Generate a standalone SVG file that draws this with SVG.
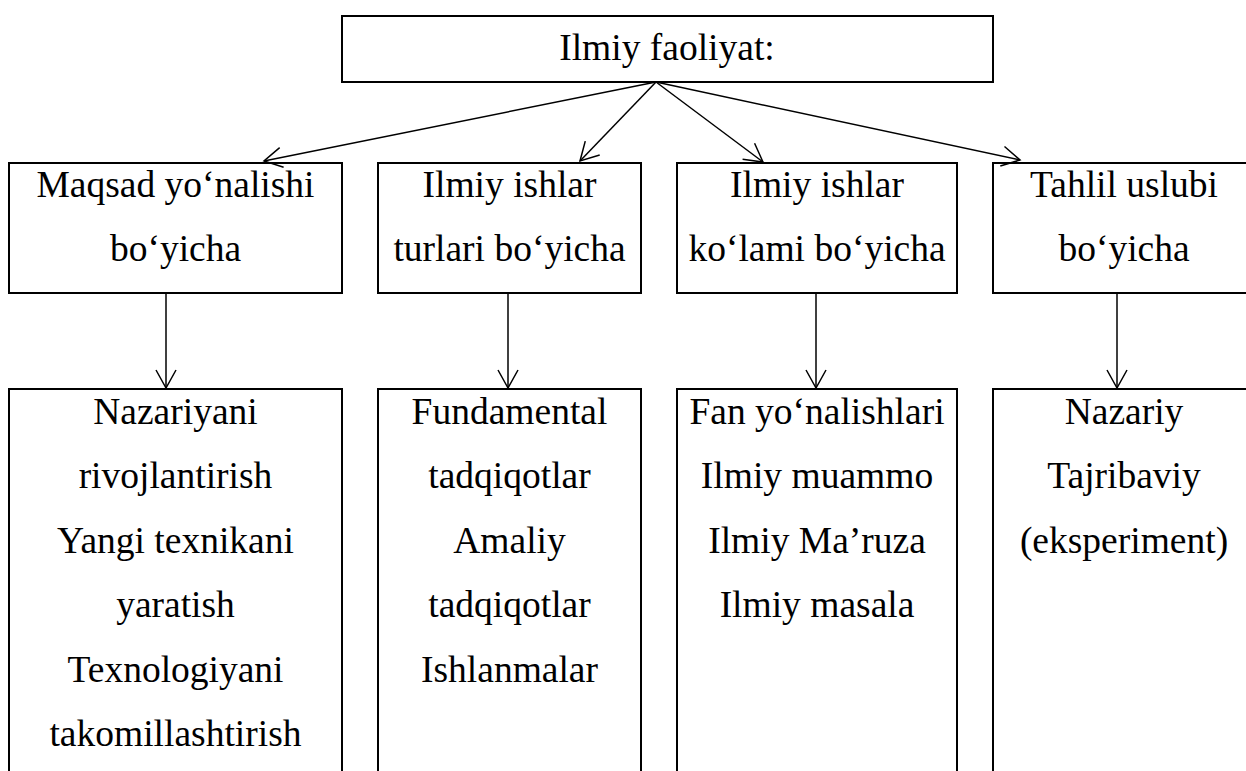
<svg xmlns="http://www.w3.org/2000/svg" width="1246" height="771" viewBox="0 0 1246 771" font-family="Liberation Serif">
  <defs>
    <marker id="arrow" markerUnits="userSpaceOnUse" viewBox="-20 -12 22 24" refX="0" refY="0" markerWidth="22" markerHeight="24" orient="auto">
      <path d="M-18,-10 L0,0 L-18,10" fill="none" stroke="#000000" stroke-width="1.5"/>
    </marker>
  </defs>
  <rect width="1246" height="771" fill="#ffffff"/>

  <!-- root -->
  <g id="root" font-size="37.5" fill="#000000">
    <rect x="342" y="16" width="651" height="66" fill="#ffffff" stroke="#000000" stroke-width="2"/>
    <text font-family="Liberation Serif" text-anchor="middle" x="667" y="60">Ilmiy faoliyat:</text>
  </g>

  <!-- category boxes -->
  <g id="cat-goal" font-size="37.5" fill="#000000">
    <rect x="9" y="163" width="333" height="130" fill="#ffffff" stroke="#000000" stroke-width="2"/>
    <text font-family="Liberation Serif" text-anchor="middle" x="175.5" y="197">Maqsad yo‘nalishi</text>
    <text font-family="Liberation Serif" text-anchor="middle" x="175.5" y="261">bo‘yicha</text>
  </g>
  <g id="cat-types" font-size="37.5" fill="#000000">
    <rect x="378" y="163" width="263" height="130" fill="#ffffff" stroke="#000000" stroke-width="2"/>
    <text font-family="Liberation Serif" text-anchor="middle" x="509.5" y="197">Ilmiy ishlar</text>
    <text font-family="Liberation Serif" text-anchor="middle" x="509.5" y="261">turlari bo‘yicha</text>
  </g>
  <g id="cat-scope" font-size="37.5" fill="#000000">
    <rect x="677" y="163" width="280" height="130" fill="#ffffff" stroke="#000000" stroke-width="2"/>
    <text font-family="Liberation Serif" text-anchor="middle" x="817" y="197">Ilmiy ishlar</text>
    <text font-family="Liberation Serif" text-anchor="middle" x="817" y="261">ko‘lami bo‘yicha</text>
  </g>
  <g id="cat-method" font-size="37.5" fill="#000000">
    <rect x="993" y="163" width="262" height="130" fill="#ffffff" stroke="#000000" stroke-width="2"/>
    <text font-family="Liberation Serif" text-anchor="middle" x="1124" y="197">Tahlil uslubi</text>
    <text font-family="Liberation Serif" text-anchor="middle" x="1124" y="261">bo‘yicha</text>
  </g>

  <!-- detail boxes -->
  <g id="det-goal" font-size="37.5" fill="#000000">
    <rect x="9" y="389" width="333" height="400" fill="#ffffff" stroke="#000000" stroke-width="2"/>
    <text font-family="Liberation Serif" text-anchor="middle" x="175.5" y="424">Nazariyani</text>
    <text font-family="Liberation Serif" text-anchor="middle" x="175.5" y="488">rivojlantirish</text>
    <text font-family="Liberation Serif" text-anchor="middle" x="175.5" y="553">Yangi texnikani</text>
    <text font-family="Liberation Serif" text-anchor="middle" x="175.5" y="617">yaratish</text>
    <text font-family="Liberation Serif" text-anchor="middle" x="175.5" y="682">Texnologiyani</text>
    <text font-family="Liberation Serif" text-anchor="middle" x="175.5" y="746">takomillashtirish</text>
  </g>
  <g id="det-types" font-size="37.5" fill="#000000">
    <rect x="378" y="389" width="263" height="400" fill="#ffffff" stroke="#000000" stroke-width="2"/>
    <text font-family="Liberation Serif" text-anchor="middle" x="509.5" y="424">Fundamental</text>
    <text font-family="Liberation Serif" text-anchor="middle" x="509.5" y="488">tadqiqotlar</text>
    <text font-family="Liberation Serif" text-anchor="middle" x="509.5" y="553">Amaliy</text>
    <text font-family="Liberation Serif" text-anchor="middle" x="509.5" y="617">tadqiqotlar</text>
    <text font-family="Liberation Serif" text-anchor="middle" x="509.5" y="682">Ishlanmalar</text>
  </g>
  <g id="det-scope" font-size="37.5" fill="#000000">
    <rect x="677" y="389" width="280" height="400" fill="#ffffff" stroke="#000000" stroke-width="2"/>
    <text font-family="Liberation Serif" text-anchor="middle" x="817" y="424">Fan yo‘nalishlari</text>
    <text font-family="Liberation Serif" text-anchor="middle" x="817" y="488">Ilmiy muammo</text>
    <text font-family="Liberation Serif" text-anchor="middle" x="817" y="553">Ilmiy Ma’ruza</text>
    <text font-family="Liberation Serif" text-anchor="middle" x="817" y="617">Ilmiy masala</text>
  </g>
  <g id="det-method" font-size="37.5" fill="#000000">
    <rect x="993" y="389" width="262" height="400" fill="#ffffff" stroke="#000000" stroke-width="2"/>
    <text font-family="Liberation Serif" text-anchor="middle" x="1124" y="424">Nazariy</text>
    <text font-family="Liberation Serif" text-anchor="middle" x="1124" y="488">Tajribaviy</text>
    <text font-family="Liberation Serif" text-anchor="middle" x="1124" y="553">(eksperiment)</text>
  </g>

  <!-- connectors -->
  <g id="connectors" fill="none" stroke="#000000" stroke-width="1.5">
    <line x1="656" y1="82" x2="264" y2="161" marker-end="url(#arrow)"/>
    <line x1="656" y1="82" x2="580" y2="161" marker-end="url(#arrow)"/>
    <line x1="656" y1="82" x2="763" y2="162" marker-end="url(#arrow)"/>
    <line x1="656" y1="82" x2="1020" y2="160" marker-end="url(#arrow)"/>
    <line x1="166" y1="294" x2="166" y2="388" marker-end="url(#arrow)"/>
    <line x1="508" y1="294" x2="508" y2="388" marker-end="url(#arrow)"/>
    <line x1="816" y1="294" x2="816" y2="388" marker-end="url(#arrow)"/>
    <line x1="1117" y1="294" x2="1117" y2="388" marker-end="url(#arrow)"/>
  </g>
</svg>
